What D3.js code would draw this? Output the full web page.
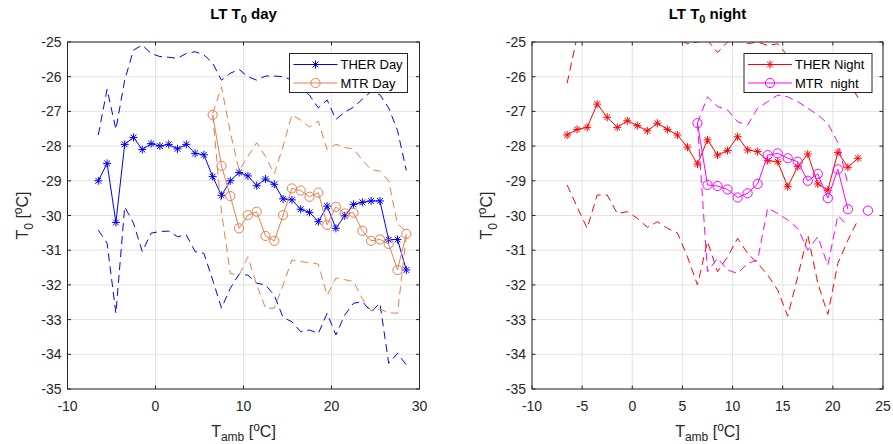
<!DOCTYPE html>
<html>
<head>
<meta charset="utf-8">
<script src="https://cdn.jsdelivr.net/npm/d3@7"></script>
<style>
  body { margin: 0; background: #fff; }
  svg { display: block; font-family: "Liberation Sans", Arial, sans-serif; }
</style>
</head>
<body>
<svg id="chart" width="893" height="444"></svg>
<script>
// ---- data ----
// day panel
const dayX = [-6.5, -5.5, -4.5, -3.5, -2.5, -1.5, -0.5, 0.5, 1.5, 2.5, 3.5, 4.5, 5.5, 6.5, 7.5, 8.5, 9.5, 10.5,
              11.5, 12.5, 13.5, 14.5, 15.5, 16.5, 17.5, 18.5, 19.5, 20.5, 21.5, 22.5, 23.5, 24.5, 25.5, 26.5, 27.5, 28.5];
const therDay = [-29.0, -28.5, -30.2, -27.95, -27.75, -28.1, -27.93, -28.0, -27.95, -28.08, -27.95, -28.21, -28.25,
                 -28.88, -29.42, -29.0, -28.76, -28.86, -29.14, -28.95, -29.1, -29.52, -29.55, -29.82, -29.91, -30.18,
                 -29.73, -30.37, -30.01, -29.68, -29.62, -29.58, -29.58, -30.7, -30.69, -31.57];
const therDayHi = [-27.68, -26.36, -27.52, -26.1, -25.23, -25.09, -25.33, -25.42, -25.44, -25.47, -25.33, -25.28, -25.37,
                   -25.61, -26.1, -25.9, -25.79, -26.0, -26.1, -25.98, -25.98, -26.0, -26.1, -26.35, -26.53, -26.9,
                   -26.67, -27.23, -27.02, -26.88, -26.65, -26.43, -26.52, -26.9, -27.55, -28.7];
const therDayLo = [-30.42, -30.8, -32.82, -29.75, -30.22, -31.04, -30.51, -30.46, -30.45, -30.61, -30.56, -31.04, -31.09,
                   -31.86, -32.67, -32.1, -31.69, -31.72, -31.95, -32.0, -32.3, -32.94, -33.06, -33.35, -33.3, -33.4,
                   -32.82, -33.44, -32.87, -32.53, -32.48, -32.77, -32.53, -34.26, -33.97, -34.31];

const mtrDayX = [6.5, 7.5, 8.5, 9.5, 10.5, 11.5, 12.5, 13.5, 14.5, 15.5, 16.5, 17.5, 18.5, 19.5, 20.5, 21.5, 22.5,
                 23.5, 24.5, 25.5, 26.5, 27.5, 28.5];
const mtrDay = [-27.1, -28.57, -29.44, -30.37, -29.99, -29.89, -30.59, -30.73, -29.99, -29.22, -29.28, -29.46, -29.34,
                -30.27, -29.75, -29.94, -29.92, -30.44, -30.73, -30.69, -30.82, -31.57, -30.53];
const mtrDayHi = [-27.06, -26.29, -27.6, -28.7, -28.3, -27.9, -28.3, -28.8, -28.0, -27.1, -27.25, -27.45, -27.28,
                  -28.1, -27.95, -28.04, -28.08, -28.4, -28.68, -28.72, -29.0, -30.25, -30.45];
const mtrDayLo = [-27.1, -29.9, -31.67, -31.72, -31.19, -32.0, -32.67, -32.67, -32.0, -31.28, -31.33, -31.36, -31.4,
                  -32.3, -31.8, -31.85, -31.9, -32.4, -32.75, -32.7, -32.8, -32.82, -30.6];

// night panel
const nightX = [-6.5, -5.5, -4.5, -3.5, -2.5, -1.5, -0.5, 0.5, 1.5, 2.5, 3.5, 4.5, 5.5, 6.5, 7.5, 8.5, 9.5, 10.5,
                11.5, 12.5, 13.5, 14.5, 15.5, 16.5, 17.5, 18.5, 19.5, 20.5, 21.5, 22.5];
const therNight = [-27.68, -27.52, -27.46, -26.79, -27.17, -27.46, -27.27, -27.41, -27.56, -27.34, -27.52, -27.68,
                   -28.03, -28.52, -27.82, -28.26, -28.13, -27.73, -28.11, -28.16, -28.42, -28.45, -29.17, -28.59,
                   -28.23, -29.09, -29.27, -28.18, -28.61, -28.35];
const therNightHi = [-26.19, -24.85, -24.5, -24.3, -24.2, -24.3, -24.4, -24.5, -24.4, -24.5, -24.6, -24.9, -25.05,
                     -25.0, -24.95, -25.3, -25.0, -24.9, -25.05, -25.0, -25.1, -25.05, -25.4, -25.6, -25.5, -25.6,
                     -25.7, -25.8, -26.1, -26.6];
const therNightLo = [-29.12, -29.75, -30.37, -29.41, -29.41, -29.94, -29.89, -30.08, -30.34, -30.18, -30.37, -30.5,
                     -31.19, -32.0, -30.75, -31.62, -31.19, -30.66, -31.09, -31.38, -31.71, -32.15, -32.9, -31.76,
                     -30.56, -31.95, -32.85, -31.38, -30.71, -30.13];

const mtrNightX = [6.5, 7.5, 8.5, 9.5, 10.5, 11.5, 12.5, 13.5, 14.5, 15.5, 16.5, 17.5, 18.5, 19.5, 20.5, 21.5, 22.5, 23.5];
const mtrNight = [-27.34, -29.12, -29.15, -29.25, -29.48, -29.36, -29.09, -28.26, -28.21, -28.35, -28.45, -29.0,
                  -28.8, -29.5, -28.67, -29.82, null, -29.86];
const mtrNightHi = [-27.34, -26.58, -26.86, -26.96, -27.3, -27.39, -26.91, -26.72, -26.53, -26.58, -26.72, -26.91,
                    -27.1, -27.35, -27.9, -29.1, null, -29.86];
const mtrNightLo = [-27.34, -31.62, -31.23, -31.57, -31.67, -31.38, -31.28, -29.79, -29.94, -30.13, -30.37, -31.0,
                    -30.61, -31.43, -30.0, -30.3, null, -29.86];

const yTicks = [-35, -34, -33, -32, -31, -30, -29, -28, -27, -26, -25];
const xTicksDay = [-10, 0, 10, 20, 30];
const xTicksNight = [-10, -5, 0, 5, 10, 15, 20, 25];

const BLUE = "#0000ff", ORANGE = "#e5804f", RED = "#ff0000", MAGENTA = "#ff00ff";
const AX = "#262626", GRID = "#e3e3e3";

const svg = d3.select("#chart");

function starPath(x, y) {
  const s = 4, d = 2.9;
  return `M${x - s},${y}L${x + s},${y}M${x},${y - s}L${x},${y + s}` +
         `M${x - d},${y - d}L${x + d},${y + d}M${x - d},${y + d}L${x + d},${y - d}`;
}

function drawMarker(g, kind, x, y, color) {
  if (kind === "star") {
    g.append("path").attr("d", starPath(x, y)).attr("stroke", color).attr("stroke-width", 1).attr("fill", "none");
  } else if (kind === "circle") {
    g.append("circle").attr("cx", x).attr("cy", y).attr("r", 4.6)
      .attr("stroke", color).attr("stroke-width", 1).attr("fill", "none");
  }
}

function drawPanel(p) {
  const x = d3.scaleLinear().domain(p.xDomain).range([p.left, p.right]);
  const y = d3.scaleLinear().domain([-35, -25]).range([389, 42]);
  const g = svg.append("g");

  // grid
  g.selectAll(".vg").data(p.xTicks).enter().append("line")
    .attr("x1", d => x(d)).attr("x2", d => x(d)).attr("y1", 42).attr("y2", 389)
    .attr("stroke", GRID).attr("stroke-width", 1);
  g.selectAll(".hg").data(yTicks).enter().append("line")
    .attr("y1", d => y(d)).attr("y2", d => y(d)).attr("x1", p.left).attr("x2", p.right)
    .attr("stroke", GRID).attr("stroke-width", 1);

  const clipId = "clip" + p.id;
  svg.append("clipPath").attr("id", clipId).append("rect")
    .attr("x", p.left).attr("y", 42).attr("width", p.right - p.left).attr("height", 389 - 42);
  const plot = g.append("g").attr("clip-path", `url(#${clipId})`);

  p.series.forEach(s => {
    const pts = s.x.map((v, i) => [v, s.y[i]]);
    const line = d3.line().defined(d => d[1] !== null).x(d => x(d[0])).y(d => y(d[1]));
    plot.append("path").attr("d", line(pts)).attr("fill", "none")
      .attr("stroke", s.color).attr("stroke-width", 1)
      .attr("stroke-dasharray", s.dash ? "8,5" : null);
    if (s.marker) {
      pts.filter(d => d[1] !== null).forEach(d => drawMarker(plot, s.marker, x(d[0]), y(d[1]), s.color));
    }
  });

  // axes box + inward ticks
  const ax = g.append("g").attr("stroke", AX).attr("stroke-width", 1).attr("fill", "none");
  ax.append("rect").attr("x", p.left).attr("y", 42).attr("width", p.right - p.left).attr("height", 347);
  const tl = 3.5;
  p.xTicks.forEach(t => {
    ax.append("line").attr("x1", x(t)).attr("x2", x(t)).attr("y1", 389).attr("y2", 389 - tl);
    ax.append("line").attr("x1", x(t)).attr("x2", x(t)).attr("y1", 42).attr("y2", 42 + tl);
  });
  yTicks.forEach(t => {
    ax.append("line").attr("y1", y(t)).attr("y2", y(t)).attr("x1", p.left).attr("x2", p.left + tl);
    ax.append("line").attr("y1", y(t)).attr("y2", y(t)).attr("x1", p.right).attr("x2", p.right - tl);
  });

  // tick labels
  g.selectAll(".xl").data(p.xTicks).enter().append("text")
    .attr("x", d => x(d)).attr("y", 411).attr("text-anchor", "middle")
    .attr("font-size", 14).attr("fill", AX).text(d => d);
  g.selectAll(".yl").data(yTicks).enter().append("text")
    .attr("x", p.left - 6).attr("y", d => y(d) + 5).attr("text-anchor", "end")
    .attr("font-size", 14).attr("fill", AX).text(d => d);

  // title
  const cx = (p.left + p.right) / 2;
  const tt = g.append("text").attr("x", cx).attr("y", 19).attr("text-anchor", "middle")
    .attr("font-size", 15).attr("font-weight", "bold").attr("fill", "#000");
  tt.append("tspan").text("LT T");
  tt.append("tspan").attr("font-size", 11).attr("dy", 4).text("0");
  tt.append("tspan").attr("dy", -4).text(" " + p.titleWord);

  // x label (kept just inside the bottom edge)
  const xl = g.append("text").attr("x", cx).attr("y", 437).attr("text-anchor", "middle")
    .attr("font-size", 16).attr("fill", AX);
  xl.append("tspan").text("T");
  xl.append("tspan").attr("font-size", 12).attr("dy", 4).text("amb");
  xl.append("tspan").attr("dy", -4).text(" [");
  xl.append("tspan").attr("font-size", 12).attr("dy", -6).text("o");
  xl.append("tspan").attr("dy", 6).text("C]");

  // y label
  const yl = g.append("text").attr("transform", `translate(${p.left - 40},215.5) rotate(-90)`)
    .attr("text-anchor", "middle").attr("font-size", 16).attr("fill", AX);
  yl.append("tspan").text("T");
  yl.append("tspan").attr("font-size", 12).attr("dy", 5).text("0");
  yl.append("tspan").attr("dy", -5).text(" [");
  yl.append("tspan").attr("font-size", 12).attr("dy", -6).text("o");
  yl.append("tspan").attr("dy", 6).text("C]");

  // legend
  const lg = g.append("g");
  lg.append("rect").attr("x", p.legend.x).attr("y", 53.5).attr("width", p.legend.w).attr("height", 39)
    .attr("fill", "#fff").attr("stroke", AX).attr("stroke-width", 1);
  p.legend.items.forEach((it, i) => {
    const ly = 64.5 + i * 18.5;
    const lx = p.legend.x + 4;
    lg.append("line").attr("x1", lx).attr("x2", lx + 44).attr("y1", ly).attr("y2", ly)
      .attr("stroke", it.color).attr("stroke-width", 1);
    drawMarker(lg, it.marker, lx + 22, ly, it.color);
    lg.append("text").attr("x", lx + 47).attr("y", ly + 4.5).attr("font-size", 13)
      .attr("fill", "#000").attr("xml:space", "preserve").text(it.label);
  });
}

drawPanel({
  id: "day", left: 67.5, right: 419.5, xDomain: [-10, 30], xTicks: xTicksDay, titleWord: "day",
  series: [
    { x: dayX, y: therDayHi, color: BLUE, dash: true },
    { x: dayX, y: therDayLo, color: BLUE, dash: true },
    { x: dayX, y: therDay, color: BLUE, marker: "star" },
    { x: mtrDayX, y: mtrDayHi, color: ORANGE, dash: true },
    { x: mtrDayX, y: mtrDayLo, color: ORANGE, dash: true },
    { x: mtrDayX, y: mtrDay, color: ORANGE, marker: "circle" }
  ],
  legend: { x: 289.5, w: 118, items: [
    { label: "THER Day", color: BLUE, marker: "star" },
    { label: "MTR Day", color: ORANGE, marker: "circle" }
  ] }
});

drawPanel({
  id: "night", left: 532, right: 883, xDomain: [-10, 25], xTicks: xTicksNight, titleWord: "night",
  series: [
    { x: nightX, y: therNightHi, color: RED, dash: true },
    { x: nightX, y: therNightLo, color: RED, dash: true },
    { x: nightX, y: therNight, color: RED, marker: "star" },
    { x: mtrNightX, y: mtrNightHi, color: MAGENTA, dash: true },
    { x: mtrNightX, y: mtrNightLo, color: MAGENTA, dash: true },
    { x: mtrNightX, y: mtrNight, color: MAGENTA, marker: "circle" }
  ],
  legend: { x: 744, w: 128, items: [
    { label: "THER Night", color: RED, marker: "star" },
    { label: "MTR  night", color: MAGENTA, marker: "circle" }
  ] }
});
</script>
</body>
</html>
